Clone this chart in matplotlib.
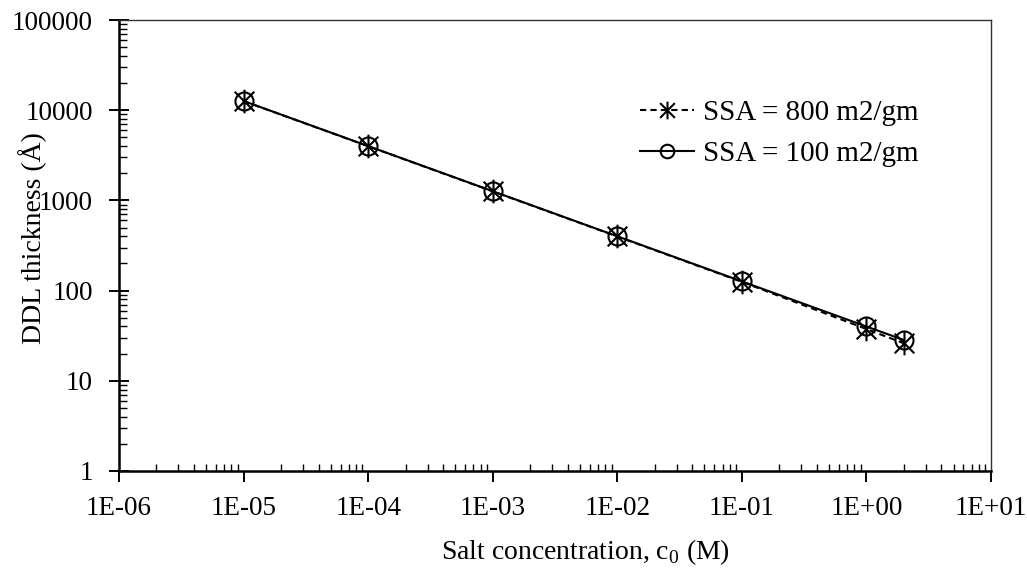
import matplotlib
matplotlib.use("Agg")
import matplotlib.pyplot as plt
from matplotlib.path import Path
from matplotlib.ticker import FuncFormatter, LogLocator, NullFormatter

plt.rcParams['font.family'] = ['Liberation Serif', 'DejaVu Serif']
plt.rcParams['mathtext.fontset'] = 'custom'
plt.rcParams['mathtext.rm'] = 'Liberation Serif'

# salt concentration (M)
conc = [1e-5, 1e-4, 1e-3, 1e-2, 1e-1, 1.0, 2.0]
# DDL thickness (Angstrom)
ddl_800 = [12600, 3990, 1260, 398, 125, 37.5, 26.0]
ddl_100 = [12650, 4000, 1265, 400, 126.5, 40.0, 28.3]

# Excel-style star marker: X plus vertical bar
star = Path([(-1, -1), (1, 1), (-1, 1), (1, -1), (0, -1.2), (0, 1.2)],
            [Path.MOVETO, Path.LINETO, Path.MOVETO, Path.LINETO,
             Path.MOVETO, Path.LINETO])

W, H = 1027, 572
fig = plt.figure(figsize=(W / 100, H / 100), dpi=100)
ax = fig.add_axes([119 / W, 1 - 471 / H, 872 / W, 451 / H])

ax.plot(conc, ddl_800, color='black', lw=1.5, ls=(0, (3, 2)),
        marker=star, ms=17, mew=1.5, mfc='none', mec='black',
        label='SSA = 800 m2/gm')
ax.plot(conc, ddl_100, color='black', lw=1.5, ls='-',
        marker='o', ms=13, mew=1.5, mfc='none', mec='black',
        label='SSA = 100 m2/gm')

ax.set_xscale('log')
ax.set_yscale('log')
ax.set_xlim(1e-6, 10)
ax.set_ylim(1, 1e5)

ax.xaxis.set_major_locator(LogLocator(base=10, numticks=20))
ax.xaxis.set_minor_locator(LogLocator(base=10, subs=range(2, 10), numticks=20))
ax.yaxis.set_major_locator(LogLocator(base=10, numticks=20))
ax.yaxis.set_minor_locator(LogLocator(base=10, subs=range(2, 10), numticks=20))
ax.xaxis.set_major_formatter(FuncFormatter(lambda v, p: f"{v:.0E}"))
ax.yaxis.set_major_formatter(FuncFormatter(lambda v, p: f"{v:.0f}"))
ax.xaxis.set_minor_formatter(NullFormatter())
ax.yaxis.set_minor_formatter(NullFormatter())

ax.tick_params(axis='x', which='major', direction='out', length=8, width=1.4,
               labelsize=19.5, pad=10)
ax.tick_params(axis='x', which='minor', direction='in', length=5, width=1.0)
ax.tick_params(axis='y', which='major', direction='inout', length=14, width=1.4,
               labelsize=19.5, pad=12)
ax.tick_params(axis='y', which='minor', direction='in', length=6, width=1.0)

for side in ['left', 'bottom']:
    ax.spines[side].set_linewidth(1.8)
for side in ['top', 'right']:
    ax.spines[side].set_linewidth(1.0)
    ax.spines[side].set_color('#333333')

fig.text(585 / W, 1 - 552 / H, 'Salt concentration, c$_0$ (M)',
         fontsize=20, ha='center', va='center')
fig.text(33 / W, 1 - 238 / H, 'DDL thickness (Å)', fontsize=20,
         rotation=90, ha='center', va='center')

ax.legend(loc='upper left', bbox_to_anchor=(640 / W, 1 - 100 / H),
          bbox_transform=fig.transFigure, frameon=False, fontsize=21,
          handlelength=1.85, handletextpad=0.3, labelspacing=0.5,
          borderpad=0, borderaxespad=0, markerscale=0.75)

fig.savefig('out.png', dpi=100)
